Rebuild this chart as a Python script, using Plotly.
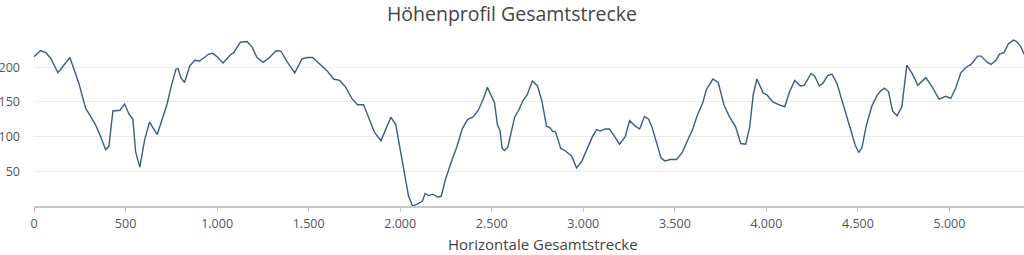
import plotly.graph_objects as go

distance = [0, 36, 64, 91, 131, 196, 245, 282, 305, 336, 364, 391, 409, 431, 469, 495, 518, 540, 555, 578,
            604, 631, 673, 705, 727, 749, 775, 787, 802, 822, 851, 878, 904, 955, 976, 1000, 1033, 1073, 1091,
            1127, 1164, 1191, 1218, 1251, 1282, 1324, 1349, 1382, 1424, 1464, 1491, 1522, 1555, 1600, 1636,
            1669, 1700, 1736, 1767, 1800, 1827, 1860, 1895, 1924, 1949, 1976, 2000, 2027, 2045, 2067, 2091,
            2122, 2136, 2155, 2178, 2204, 2224, 2245, 2273, 2309, 2340, 2369, 2396, 2427, 2455, 2476, 2515,
            2531, 2545, 2557, 2570, 2588, 2607, 2625, 2647, 2671, 2693, 2722, 2750, 2775, 2799, 2817, 2832,
            2848, 2877, 2899, 2936, 2963, 2991, 3022, 3050, 3073, 3095, 3119, 3143, 3174, 3198, 3229, 3253,
            3284, 3308, 3334, 3357, 3375, 3399, 3425, 3445, 3476, 3509, 3540, 3567, 3598, 3622, 3653, 3671,
            3708, 3737, 3768, 3796, 3832, 3860, 3887, 3909, 3928, 3948, 3970, 3982, 4004, 4035, 4067, 4100,
            4127, 4155, 4185, 4207, 4244, 4264, 4289, 4309, 4335, 4358, 4385, 4413, 4440, 4464, 4485, 4504,
            4522, 4545, 4576, 4604, 4625, 4645, 4667, 4689, 4713, 4740, 4767, 4798, 4827, 4871, 4907, 4943,
            4980, 5007, 5034, 5062, 5091, 5118, 5154, 5173, 5207, 5227, 5254, 5273, 5298, 5322, 5349, 5367,
            5389, 5407]

elevation = [215, 224, 221, 213, 192, 214, 177, 141, 131, 117, 100, 81, 86, 137, 138, 147, 133, 125, 78, 56,
             95, 121, 103, 128, 147, 172, 197, 198, 185, 178, 202, 210, 209, 219, 220, 215, 206, 218, 221,
             236, 237, 229, 214, 207, 213, 224, 223, 208, 192, 212, 214, 214, 206, 195, 183,
             181, 172, 155, 146, 146, 128, 106, 94, 112, 128, 117, 80, 42, 15, 0, 2.4,
             7, 18, 15, 17, 13, 14, 36, 59, 85, 112, 125, 128, 138, 155, 171, 149,
             117, 109, 83, 80, 85, 105, 128, 138, 152, 160, 180, 173, 150, 115, 113, 108,
             107, 83, 80, 72, 55, 64, 83, 100, 110, 108, 111, 111, 99, 89, 100, 123,
             115, 111, 129, 125, 114, 93, 69, 65, 67, 67, 77, 93, 111, 130, 149, 167,
             183, 178, 146, 130, 114, 90, 89, 114, 160, 183, 171, 163, 160, 150, 146, 143,
             165, 181, 173, 174, 191, 187, 173, 177, 188, 190, 177, 153, 128, 109, 88, 77,
             84, 115, 144, 159, 166, 170, 165, 137, 130, 143, 203, 190, 174, 185, 171, 154,
             158, 155, 170, 192, 200, 204, 216, 216, 207, 204, 210, 219, 221, 234, 239, 237,
             230, 219]

x_ticks = [0, 500, 1000, 1500, 2000, 2500, 3000, 3500, 4000, 4500, 5000]
y_ticks = [50, 100, 150, 200]

FONT = "Open Sans"

fig = go.Figure()
fig.add_trace(go.Scatter(
    x=distance, y=elevation, mode="lines",
    line=dict(color="#3d5a8c", width=1.4),
    hoverinfo="x+y", showlegend=False,
))

fig.update_layout(
    width=1024, height=255,
    margin=dict(l=34, r=0, t=36, b=49),
    paper_bgcolor="white", plot_bgcolor="white",
    separators=",.",
    font=dict(family=FONT, color="#555555"),
    title=dict(text="Höhenprofil Gesamtstrecke", x=0.5, xanchor="center",
               y=1 - 14.5 / 255, yanchor="middle", yref="container",
               font=dict(family=FONT, size=19.5, color="#444444")),
    xaxis=dict(
        range=[0, 5407], tickvals=x_ticks, tickformat=",d",
        showgrid=False, zeroline=False,
        showline=True, linecolor="#c8c8c8", linewidth=2,
        ticks="outside", ticklen=4, tickcolor="#c8c8c8", tickwidth=1,
        ticklabelstandoff=1,
        tickfont=dict(family=FONT, size=12.5, color="#555555"),
        fixedrange=True,
    ),
    yaxis=dict(
        range=[0, 245], tickvals=y_ticks,
        showgrid=True, gridcolor="#eaeaea", gridwidth=1,
        zeroline=False, showline=False, ticks="",
        ticklabelstandoff=13,
        tickfont=dict(family=FONT, size=12.5, color="#555555"),
        fixedrange=True,
    ),
    annotations=[dict(
        text="Horizontale Gesamtstrecke", xref="paper", yref="paper",
        x=(543 - 34) / 990, y=-(244 - 206) / 170, xanchor="center", yanchor="middle",
        showarrow=False, font=dict(family=FONT, size=15, color="#444444"),
    )],
)

fig.write_html("out.html")
